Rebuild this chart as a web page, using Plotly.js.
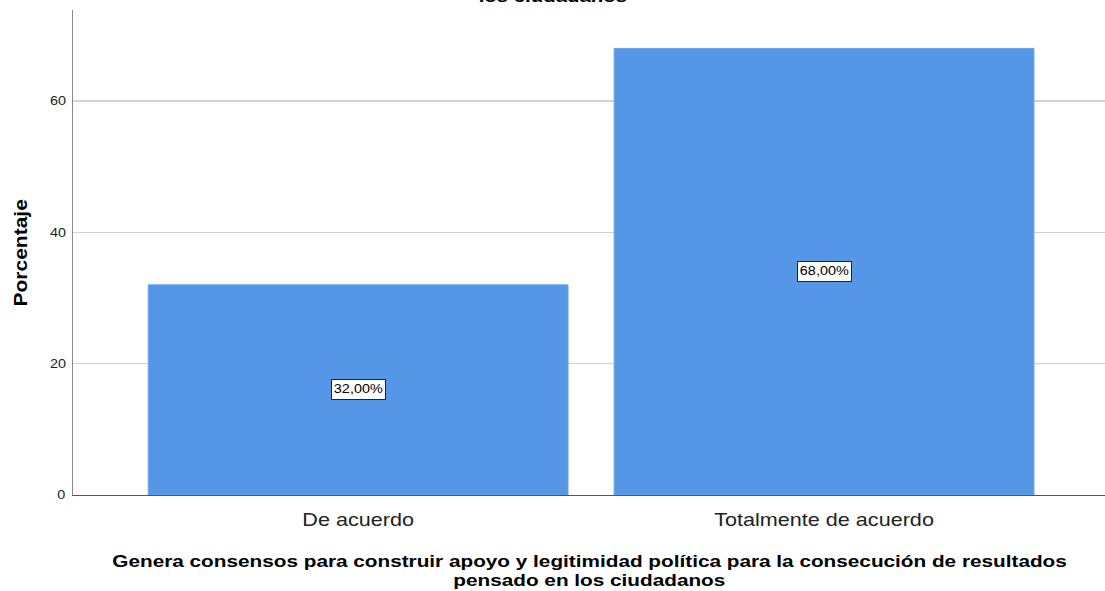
<!DOCTYPE html>
<html>
<head>
<meta charset="utf-8">
<script src="https://cdn.plot.ly/plotly-3.0.1.min.js"></script>
<style>
  html, body { margin: 0; padding: 0; background: #ffffff; }
  #chart { width: 1105px; height: 591px; }
</style>
</head>
<body>
<div id="chart"></div>
<script>
// Response categories and their share of respondents (%)
const categories = ['De acuerdo', 'Totalmente de acuerdo'];
const percentages = [32, 68];
const valueLabels = ['32,00%', '68,00%'];
const yTicks = [0, 20, 40, 60];

// Title and axis texts
const titleLines = [
  'Genera consensos para construir apoyo y legitimidad política para la consecución de resultados',
  'pensado en los ciudadanos'
];
const titleTailText = 'los ciudadanos';
const yTitleText = 'Porcentaje';

const barColor = '#5596e6';
const fontFamily = 'Liberation Sans, Arial, sans-serif';
// Text is drawn a little wide: horizontal stretch applied to every label
const TEXT_STRETCH = 1.2;

const trace = {
  type: 'bar',
  x: categories,
  y: percentages,
  marker: { color: barColor, line: { color: '#6aa3ea', width: 1 } },
  hoverinfo: 'skip'
};

// Boxed value labels placed at the middle of each bar
const labelAnnotations = categories.map((c, i) => ({
  x: c,
  y: percentages[i] / 2,
  xref: 'x',
  yref: 'y',
  text: valueLabels[i],
  showarrow: false,
  font: { family: fontFamily, size: 12, color: '#000000' },
  width: 51,
  height: 17,
  bgcolor: '#ffffff',
  bordercolor: '#222222',
  borderwidth: 1,
  borderpad: 1
}));

// Two-line category axis title, lines set close together
const titleShifts = [-66, -85];
const xTitleAnnotations = titleLines.map((t, i) => ({
  xref: 'paper', yref: 'paper',
  x: 0.5, y: 0,
  xanchor: 'center', yanchor: 'middle',
  yshift: titleShifts[i],
  text: '<b>' + t + '</b>',
  showarrow: false,
  font: { family: fontFamily, size: 17.3, color: '#000000' }
}));

// Last line of the chart title, partly above the visible page
const titleTail = {
  xref: 'paper', yref: 'paper',
  x: 0.465, y: 1,
  xanchor: 'center', yanchor: 'bottom',
  yshift: 2,
  text: '<b>' + titleTailText + '</b>',
  showarrow: false,
  font: { family: fontFamily, size: 17, color: '#000000' }
};

// Rotated value axis title
const yTitle = {
  xref: 'paper', yref: 'paper',
  x: 0, y: 0.5,
  xanchor: 'center', yanchor: 'middle',
  xshift: -52,
  textangle: -90,
  text: '<b>' + yTitleText + '</b>',
  showarrow: false,
  font: { family: fontFamily, size: 17.5, color: '#000000' }
};

const layout = {
  width: 1105,
  height: 591,
  margin: { l: 73, r: 0, t: 10, b: 96 },
  paper_bgcolor: '#ffffff',
  plot_bgcolor: '#ffffff',
  bargap: 0.099,
  showlegend: false,
  xaxis: {
    type: 'category',
    range: [-0.612, 1.603],
    showline: true,
    linecolor: '#555555',
    linewidth: 1,
    showgrid: false,
    ticks: '',
    ticklabelstandoff: 8,
    tickfont: { family: fontFamily, size: 18, color: '#222222' },
    automargin: false
  },
  yaxis: {
    range: [0, 73.85],
    tickvals: yTicks,
    ticktext: yTicks.map(String),
    showline: true,
    linecolor: '#888888',
    linewidth: 1,
    showgrid: true,
    gridcolor: '#d2d2d2',
    gridwidth: 1.2,
    zeroline: false,
    ticks: '',
    ticklabelstandoff: 5,
    tickfont: { family: fontFamily, size: 12, color: '#222222' },
    automargin: false
  },
  annotations: labelAnnotations.concat(xTitleAnnotations, [titleTail, yTitle])
};

// Widen each label along its reading direction, about its own centre
function stretchTexts(gd) {
  const texts = gd.querySelectorAll('.xtick text, .ytick text, text.annotation-text');
  texts.forEach(t => {
    const bb = t.getBBox();
    const cx = bb.x + bb.width / 2;
    const prev = t.getAttribute('transform') || '';
    t.setAttribute('transform',
      (prev + ' translate(' + cx + ',0) scale(' + TEXT_STRETCH + ',1) translate(' + (-cx) + ',0)').trim());
  });
}

Plotly.newPlot('chart', [trace], layout, { displayModeBar: false, staticPlot: true })
  .then(stretchTexts);
</script>
</body>
</html>
